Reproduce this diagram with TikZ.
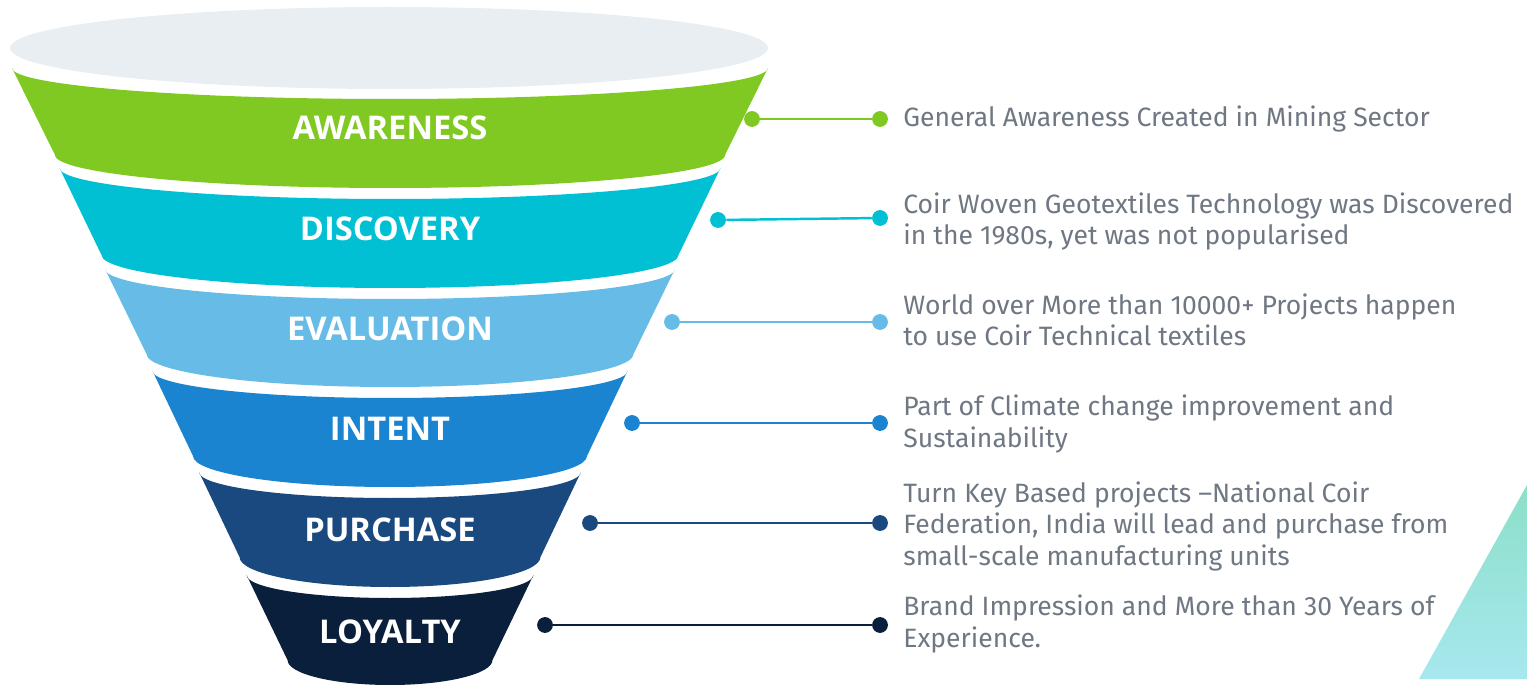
\documentclass[tikz,border=0pt]{standalone}
\usepackage{fontspec}
\setmainfont{Fira Sans}
\newfontfamily\stagefont{Open Sans}
\definecolor{rimgray}{HTML}{E8EEF1}
\definecolor{awareC}{HTML}{7FC922}
\definecolor{discC}{HTML}{02C0D4}
\definecolor{evalC}{HTML}{67BCE7}
\definecolor{intentC}{HTML}{1A84D1}
\definecolor{purchC}{HTML}{19497F}
\definecolor{loyalC}{HTML}{0A1F3B}
\definecolor{notegray}{HTML}{6F7783}
\definecolor{triTop}{HTML}{8CDFC8}
\definecolor{triBot}{HTML}{A7E8EF}
\begin{document}
\begin{tikzpicture}[x=0.02cm,y=0.02cm,
  stagelabel/.style={text=white,font=\stagefont\fontsize{18.6}{20}\selectfont\bfseries,inner sep=0pt},
  note/.style={text=notegray,font=\fontsize{15.1}{17.86}\selectfont,align=left,anchor=base west,inner sep=0pt},
  dot/.style={circle,fill=#1,minimum size=9pt,inner sep=0pt},
  link/.style={draw=#1,line width=1.4pt}]
\useasboundingbox (0,0) rectangle (1527,-685);

% rim of the funnel
\fill[rimgray] (389,-48) ellipse[x radius=379,y radius=41];

% funnel bands, labels and connectors
\foreach \col/\ty/\th/\ts/\by/\bh/\bs/\nm/\ly/\txt/\lx/\lyl/\ryr in {
  awareC/68/378/31/155/335/33/awareness/127.5/AWARENESS/752/119/119,
  discC/168/330.5/31/255/288.5/33/discovery/228.5/DISCOVERY/718/220/218,
  evalC/269/285/30/354/243.5/33/evaluation/329/EVALUATION/672/322/322,
  intentC/371/237.5/27/456/197/31/intent/428.5/INTENT/632/423/423,
  purchC/472/191/26/557/150.5/30/purchase/530/PURCHASE/590/523/523,
  loyalC/575/143.5/23/660/102.5/25/loyalty/631.5/LOYALTY/545/625/625}
{
  \fill[\col] (390-\th,-\ty) arc[start angle=180,end angle=360,x radius=\th,y radius=\ts]
    -- (390+\bh,-\by) arc[start angle=0,end angle=-180,x radius=\bh,y radius=\bs] -- cycle;
  \node[stagelabel] (\nm) at (390,-\ly) {\txt};
  \node[dot=\col] (\nm-l) at (\lx,-\lyl) {};
  \node[dot=\col] (\nm-r) at (880,-\ryr) {};
  \draw[link=\col] (\nm-l) -- (\nm-r);
}

% descriptions (anchored at the baseline of their last line)
\node[note] (n1) at (903,-127) {General Awareness Created in Mining Sector};
\node[note] (n2) at (903,-245) {Coir Woven Geotextiles Technology was Discovered\\in the 1980s, yet was not popularised};
\node[note] (n3) at (903,-346) {World over More than 10000+ Projects happen\\to use Coir Technical textiles};
\node[note] (n4) at (903,-447) {Part of Climate change improvement and\\Sustainability};
\node[note] (n5) at (903,-565) {Turn Key Based projects –National Coir\\Federation, India will lead and purchase from\\small-scale manufacturing units};
\node[note] (n6) at (903,-647) {Brand Impression and More than 30 Years of\\Experience.};

% corner accent
\shade[top color=triTop,bottom color=triBot] (1527,-485) -- (1419,-679) -- (1527,-679) -- cycle;
\end{tikzpicture}
\end{document}
